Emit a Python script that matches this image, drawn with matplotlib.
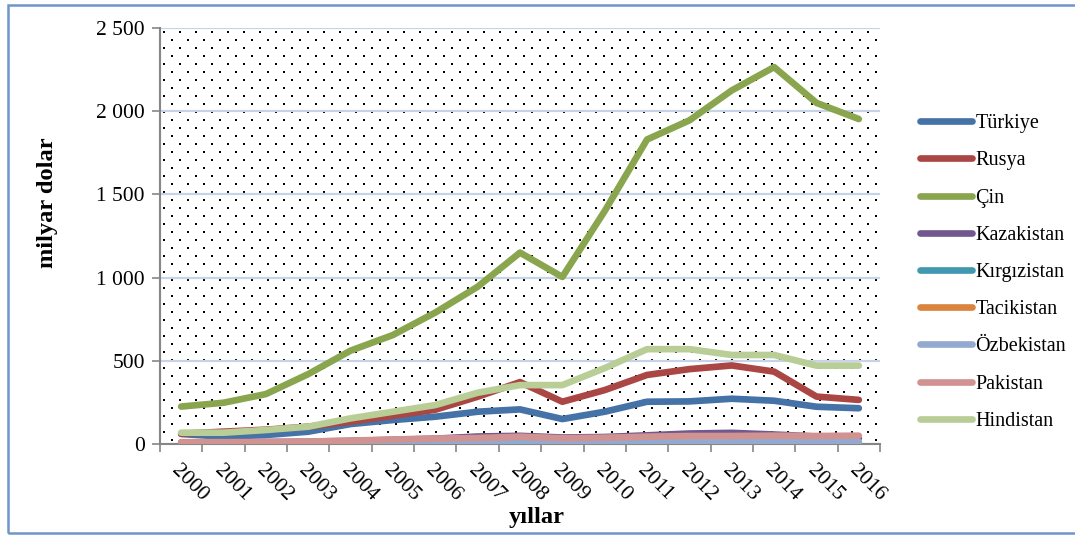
import matplotlib
matplotlib.use('Agg')
import matplotlib.pyplot as plt
import numpy as np
from matplotlib.patches import Rectangle
from matplotlib.ticker import FuncFormatter, FixedLocator

plt.rcParams['font.family'] = ['Liberation Serif', 'DejaVu Serif']

years = [str(y) for y in range(2000, 2017)]

turkiye = [60, 44, 54, 74, 120, 144, 164, 194, 208, 150, 194, 254, 256, 272, 260, 224, 215]
rusya = [62, 74, 86, 104, 134, 170, 206, 284, 372, 254, 324, 415, 450, 472, 435, 285, 265]
cin = [225, 248, 300, 420, 561, 655, 790, 945, 1150, 1004, 1400, 1830, 1945, 2125, 2265, 2050, 1953]
kazakistan = [9, 11, 12, 14, 19, 25, 32, 45, 49, 39, 42, 52, 63, 67, 57, 45, 36]
kirgizistan = [0.6, 0.5, 0.7, 0.8, 1.1, 1.3, 2.3, 3.3, 4.6, 3.6, 3.9, 5.1, 6.2, 6.7, 6.5, 5.2, 5.0]
tacikistan = [0.8, 0.8, 0.8, 1.0, 1.4, 1.6, 2.0, 3.0, 3.9, 3.0, 3.3, 4.0, 4.6, 4.7, 4.8, 3.8, 3.4]
ozbekistan = [3, 3.5, 3, 3.5, 4.5, 5, 6, 8, 11, 11, 11, 13, 14, 15, 15, 14, 13]
pakistan = [11, 11, 12, 15, 20, 27, 33, 36, 44, 35, 38, 44, 48, 48, 50, 48, 50]
hindistan = [68, 68, 84, 104, 154, 194, 234, 308, 354, 354, 456, 570, 570, 535, 535, 471, 471]

series = [
    ("Türkiye", turkiye, "#4572A7"),
    ("Rusya", rusya, "#AA4643"),
    ("Çin", cin, "#89A54E"),
    ("Kazakistan", kazakistan, "#71588F"),
    ("Kırgızistan", kirgizistan, "#4198AF"),
    ("Tacikistan", tacikistan, "#DB843D"),
    ("Özbekistan", ozbekistan, "#93A9CF"),
    ("Pakistan", pakistan, "#D19392"),
    ("Hindistan", hindistan, "#B9CD96"),
]

W, H = 1075, 536
fig = plt.figure(figsize=(W / 100, H / 100), dpi=100)
ax_l, ax_r, ax_t, ax_b = 160, 880, 28, 444
ax = fig.add_axes([ax_l / W, 1 - ax_b / H, (ax_r - ax_l) / W, (ax_b - ax_t) / H])

# dotted background pattern (16 px across, 8 px down, staggered rows)
pw, ph = ax_r - ax_l, ax_b - ax_t
dots_x, dots_y = [], []
for i, py in enumerate(np.arange(4, ph, 8)):
    start = 8 if i % 2 else 0
    for px in np.arange(start + 4, pw, 16):
        dots_x.append(px / pw)
        dots_y.append(1 - py / ph)
ax.scatter(dots_x, dots_y, s=2.4, marker='s', c='black', linewidths=0,
           transform=ax.transAxes, zorder=0)

x = np.arange(len(years))
for name, vals, col in series:
    ax.plot(x, vals, color=col, lw=4.8, label=name, solid_capstyle='round',
            solid_joinstyle='round', zorder=3)

ax.set_xlim(-0.5, len(years) - 0.5)
ax.set_ylim(0, 2500)
ax.set_yticks(range(0, 2501, 500))
ax.yaxis.set_major_formatter(FuncFormatter(lambda v, p: f"{v:,.0f}".replace(",", " ")))
ax.grid(axis='y', color='#c6d3e8', lw=1.6, zorder=1)

ax.set_xticks(x)
ax.set_xticklabels(years, rotation=-45, ha='left', va='top', rotation_mode='anchor')
ax.xaxis.set_minor_locator(FixedLocator(np.arange(-0.5, len(years), 1)))
ax.tick_params(axis='x', which='major', length=0, pad=12, labelsize=15.5)
ax.tick_params(axis='x', which='minor', length=6, color='#868686', width=1.2)
ax.tick_params(axis='y', length=6, color='#868686', width=1.2, labelsize=15.5, pad=5)

for s in ['top', 'right']:
    ax.spines[s].set_visible(False)
for s in ['left', 'bottom']:
    ax.spines[s].set_color('#868686')
    ax.spines[s].set_linewidth(1.5)

fig.text(47 / W, 1 - 203 / H, "milyar dolar", rotation=90, fontsize=17.6,
         fontweight='bold', ha='center', va='center')
fig.text(537 / W, 1 - 518 / H, "yıllar", fontsize=17.6, fontweight='bold',
         ha='center', va='center')

fig.legend(loc='upper left', bbox_to_anchor=(912 / W, 1 - 106 / H), frameon=False,
           fontsize=14.5, handlelength=2.6, handletextpad=0.15, labelspacing=0.9,
           borderaxespad=0)

fig.patches.append(Rectangle((8 / W, 3 / H), 1.2, 1 - 8 / H, transform=fig.transFigure,
                             fill=False, edgecolor='#6f95c9', lw=1.8))

fig.savefig('out.png', dpi=100)
